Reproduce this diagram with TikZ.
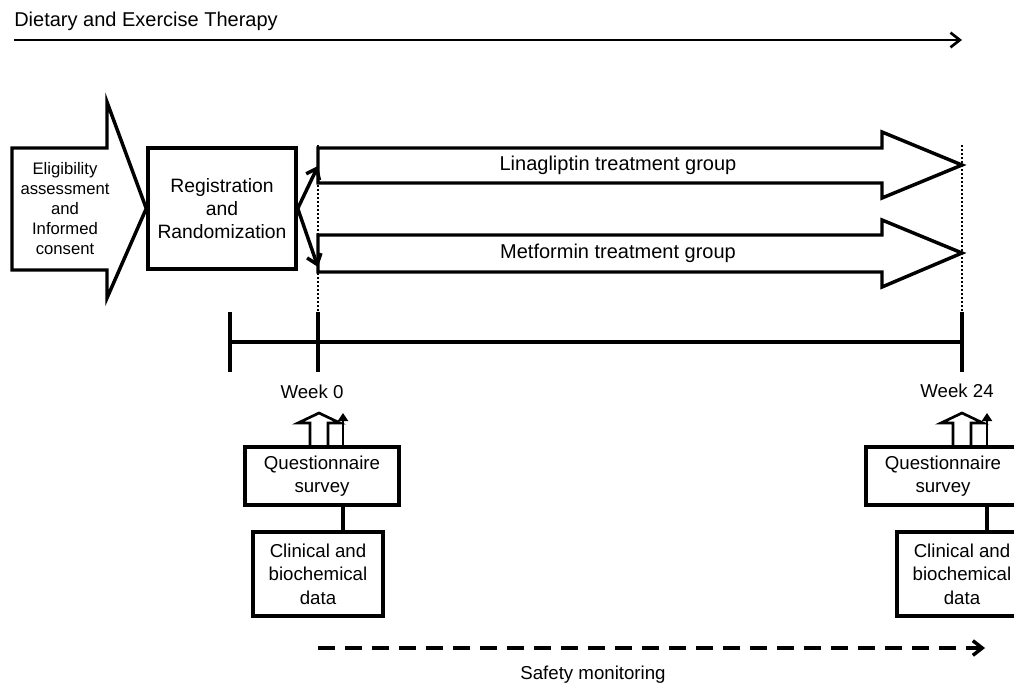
\documentclass[tikz,border=0pt]{standalone}
\usepackage{fontspec}
\setmainfont{Liberation Sans}
\usetikzlibrary{arrows.meta}

\begin{document}
\begin{tikzpicture}[x=0.75pt,y=-0.75pt,
  heavy/.style={line width=2.6pt, line join=miter},
  txt/.style={align=center, inner sep=0pt, font=\fontsize{14}{17.5}\selectfont},
  box/.style={draw, heavy, txt},
  barb/.style={-{Straight Barb[length=7pt,width=11pt]}},
  guide/.style={line width=1.5pt, dash pattern=on 1.5pt off 1.5pt},
]
\useasboundingbox (0,0) rectangle (1014,686);
\clip (0,0) rectangle (1014,686);

% Therapy running through the whole study
\node[txt, anchor=west, font=\fontsize{15}{18}\selectfont] (diet) at (14,21) {Dietary and Exercise Therapy};
\coordinate (dietend) at (962,40);
\draw[line width=2pt, barb] (diet.south west |- dietend) -- (dietend);

% Guide lines at week 0 and week 24
\draw[guide] (318,145) -- (318,312);
\draw[guide] (962,145) -- (962,312);

% Enrolment
\node[txt, font=\fontsize{12.5}{15}\selectfont] (elig) at (65,209) {Eligibility\\assessment\\and\\Informed\\consent};
\node[box, font=\fontsize{14.5}{17.5}\selectfont, minimum width=111pt, minimum height=90.75pt] (reg) at (222,208.5) {Registration\\and\\Randomization};
\draw[heavy] (12,148) -- (107,148) -- (107,102) -- (reg.west) -- (107,298) -- (107,270) -- (12,270) -- cycle;

% Treatment groups
\draw[heavy] (318,148) -- (882,148) -- (882,132) -- (962,165) -- (882,198) -- (882,183) -- (318,183) -- cycle;
\node[txt, font=\fontsize{15}{18}\selectfont] (lin) at (618,165) {Linagliptin treatment group};
\draw[heavy] (318,235) -- (882,235) -- (882,220) -- (962,253) -- (882,287) -- (882,272) -- (318,272) -- cycle;
\node[txt, font=\fontsize{15}{18}\selectfont] (met) at (618,253) {Metformin treatment group};

\coordinate (lt) at (318,166);
\coordinate (mt) at (318,267);
\draw[heavy, barb] (reg.east) -- (lt);
\draw[heavy, barb] (reg.east) -- (mt);

% Time line
\draw[heavy] (230,342) -- (962,342);
\draw[heavy] (230,312) -- (230,372);
\draw[heavy] (318,312) -- (318,372);
\draw[heavy] (962,312) -- (962,372);
\node[txt] (wk0) at (312,392) {Week 0};
\node[txt] (wk24) at (957,391) {Week 24};

% Data collection at week 0
\node[box, minimum width=115.5pt, minimum height=43.5pt] (q0) at (322,476) {Questionnaire\\survey};
\node[box, minimum width=97.5pt, minimum height=63pt] (c0) at (318,574) {Clinical and\\biochemical\\data};
\draw[line width=2pt, line join=miter] (310,447) -- (310,423) -- (298,423) -- (319,413) -- (340,423) -- (328,423) -- (328,447);
\coordinate (s0) at (343,413);
\draw[line width=2pt, -{Triangle[length=6pt,width=7.5pt]}] (q0.north -| s0) -- (s0);
\draw[heavy] (q0.south -| s0) -- (c0.north -| s0);

% Data collection at week 24
\node[box, minimum width=115.5pt, minimum height=43.5pt] (q24) at (943,476) {Questionnaire\\survey};
\node[box, minimum width=97.5pt, minimum height=63pt] (c24) at (962,574) {Clinical and\\biochemical\\data};
\draw[line width=2pt, line join=miter] (953,447) -- (953,423) -- (941,423) -- (962,413) -- (983,423) -- (971,423) -- (971,447);
\coordinate (s24) at (987,413);
\draw[line width=2pt, -{Triangle[length=6pt,width=7.5pt]}] (q24.north -| s24) -- (s24);
\draw[heavy] (q24.south -| s24) -- (c24.north -| s24);

% Safety monitoring
\coordinate (sfstart) at (318,648);
\coordinate (sfend) at (985,648);
\draw[heavy, dash pattern=on 12.75pt off 7.5pt, barb] (sfstart) -- (sfend);
\node[txt] (safe) at (593,675) {Safety monitoring};
\end{tikzpicture}
\end{document}
